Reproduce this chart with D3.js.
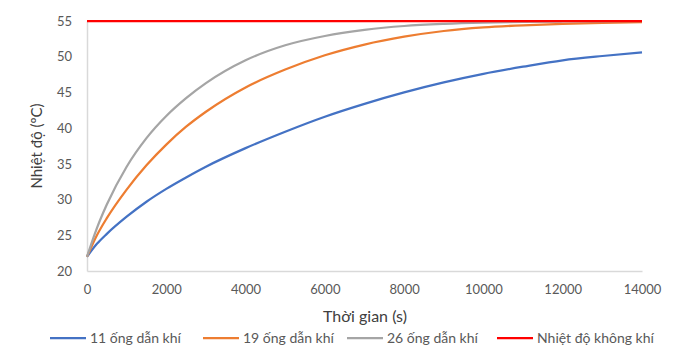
<!DOCTYPE html>
<html>
<head>
<meta charset="utf-8">
<script src="https://cdn.jsdelivr.net/npm/d3@7"></script>
<style>
  body { margin: 0; background: #fff; }
  text { font-family: Lato, 'Open Sans', sans-serif; }
</style>
</head>
<body>
<div id="chart"></div>
<script>
const width = 680;
const height = 349;

// time in seconds
const times = [0, 250, 500, 1000, 1500, 2000, 2500, 3000, 4000, 5000, 6000, 7000, 8000, 9000, 10000, 11000, 12000, 13000, 14000];
const tubes11 = [22, 23.8, 25.2, 27.6, 29.7, 31.5, 33.1, 34.6, 37.2, 39.5, 41.6, 43.4, 45.0, 46.4, 47.6, 48.6, 49.5, 50.1, 50.6];
const tubes19 = [22, 25.0, 27.4, 31.4, 34.8, 37.7, 40.2, 42.3, 45.7, 48.2, 50.2, 51.7, 52.8, 53.6, 54.1, 54.4, 54.6, 54.75, 54.85];
const tubes26 = [22, 26.0, 29.3, 34.6, 38.6, 41.7, 44.2, 46.3, 49.5, 51.6, 52.9, 53.75, 54.3, 54.6, 54.78, 54.88, 54.93, 54.96, 54.98];
const airTemp = [55, 55, 55, 55, 55, 55, 55, 55, 55, 55, 55, 55, 55, 55, 55, 55, 55, 55, 55];

const seriesNames = ['11  ống dẫn khí', '19 ống dẫn khí', '26  ống dẫn khí', 'Nhiệt độ không khí'];
const seriesColors = ['#4472c4', '#ed7d31', '#a5a5a5', '#ff0000'];
const xTicks = [0, 2000, 4000, 6000, 8000, 10000, 12000, 14000];
const yTicks = [20, 25, 30, 35, 40, 45, 50, 55];

const series = [tubes11, tubes19, tubes26, airTemp].map((values, i)=>({
  name: seriesNames[i],
  color: seriesColors[i],
  points: values.map((v, j)=>({t: times[j], v})),
}));

const x = d3.scaleLinear().domain([0, 14000]).range([87, 642]);
const y = d3.scaleLinear().domain([20, 55]).range([271, 21]);

const svg = d3.create('svg')
  .attr('width', width)
  .attr('height', height);

// axes (Excel style: light line, no tick marks)
svg.append('g')
  .attr('transform', `translate(0,${y(20)})`)
  .call(d3.axisBottom(x).tickValues(xTicks).tickSize(0).tickPadding(14).tickFormat(d3.format('d')))
  .call((g)=>g.select('.domain').attr('stroke', '#d9d9d9').attr('stroke-width', 1.5))
  .call((g)=>g.selectAll('text').attr('fill', '#595959').attr('font-size', 13));

svg.append('g')
  .attr('transform', `translate(${x(0)},0)`)
  .call(d3.axisLeft(y).tickValues(yTicks).tickSize(0).tickPadding(15))
  .call((g)=>g.select('.domain').attr('stroke', '#d9d9d9').attr('stroke-width', 1.5))
  .call((g)=>g.selectAll('text').attr('fill', '#595959').attr('font-size', 13));

const line = d3.line()
  .x((d)=>x(d.t))
  .y((d)=>y(d.v))
  .curve(d3.curveMonotoneX);

svg.append('g')
  .selectAll('path')
  .data(series)
  .join('path')
  .attr('fill', 'none')
  .attr('stroke', (d)=>d.color)
  .attr('stroke-width', 2.25)
  .attr('d', (d)=>line(d.points));

// axis titles
svg.append('text')
  .attr('x', 365)
  .attr('y', 322)
  .attr('text-anchor', 'middle')
  .attr('font-size', 16)
  .attr('fill', '#404040')
  .text('Thời gian (s)');

svg.append('text')
  .attr('transform', 'translate(42,146) rotate(-90)')
  .attr('text-anchor', 'middle')
  .attr('font-size', 15)
  .attr('fill', '#404040')
  .text('Nhiệt độ (ºC)');

// legend
const legendX = [50, 203, 347, 497];
const legend = svg.append('g')
  .selectAll('g')
  .data(series)
  .join('g')
  .attr('transform', (d, i)=>`translate(${legendX[i]},338)`);

legend.append('line')
  .attr('x1', 0)
  .attr('x2', 36)
  .attr('stroke', (d)=>d.color)
  .attr('stroke-width', 2.25);

legend.append('text')
  .attr('x', 40)
  .attr('dy', '0.35em')
  .attr('font-size', 14)
  .attr('fill', '#595959')
  .text((d)=>d.name);

document.getElementById('chart').appendChild(svg.node());
</script>
</body>
</html>
